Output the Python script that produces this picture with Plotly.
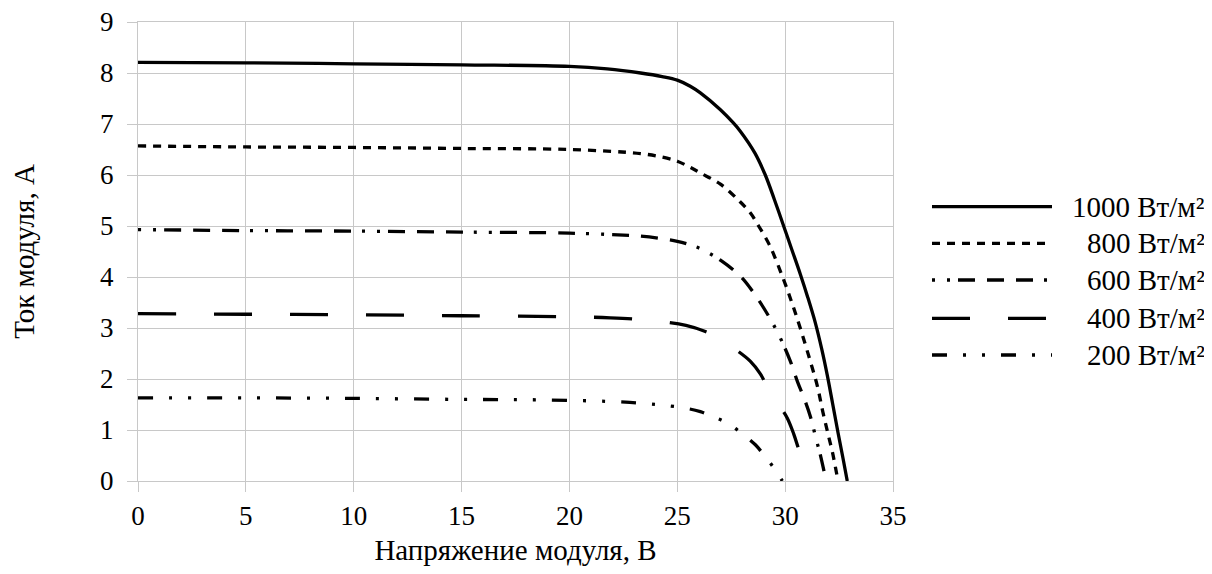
import plotly.graph_objects as go

# ---- data ----
labels = ["1000 Вт/м²", "800 Вт/м²", "600 Вт/м²", "400 Вт/м²", "200 Вт/м²"]

v1000 = [0, 5, 10, 15, 20, 21.75, 23.3, 24.3, 25, 25.6, 26.07, 27.0, 27.6, 27.92, 28.6, 29.08,
         29.5, 29.93, 30.3, 30.7, 31.05, 31.4, 31.7, 31.95, 32.2, 32.45, 32.68, 32.88]
i1000 = [8.21, 8.20, 8.18, 8.16, 8.13, 8.08, 8.0, 7.93, 7.86, 7.74, 7.61, 7.28, 7.02, 6.86, 6.43, 6.0,
         5.52, 5.0, 4.55, 4.06, 3.6, 3.1, 2.58, 2.08, 1.52, 0.95, 0.45, 0.0]

v800 = [0, 5, 10, 15, 20, 23.3, 24.3, 25, 25.6, 26.07, 27.0, 27.9, 28.4, 28.77, 29.27, 29.9,
        30.35, 30.7, 31.2, 31.5, 31.75, 32.0, 32.2, 32.45]
i800 = [6.57, 6.55, 6.54, 6.52, 6.50, 6.42, 6.35, 6.27, 6.15, 6.04, 5.82, 5.48, 5.25, 5.0, 4.63,
        3.98, 3.45, 3.0, 2.3, 1.85, 1.35, 0.9, 0.55, 0.0]

v600 = [0, 5, 10, 15, 20, 23.3, 24.3, 25, 25.6, 26.1, 27.0, 27.96, 28.54, 29.24, 29.78, 30.24,
        30.58, 30.9, 31.18, 31.42, 31.65, 31.9]
i600 = [4.93, 4.91, 4.90, 4.88, 4.86, 4.80, 4.75, 4.70, 4.63, 4.55, 4.33, 4.0, 3.69, 3.23, 2.8,
        2.35, 1.94, 1.6, 1.25, 0.85, 0.48, 0.0]

v400 = [0, 5, 10, 15, 20, 21.9, 23.7, 25.4, 26.3, 27.07, 27.7, 28.38, 28.85, 29.24, 29.7,
        30.09, 30.4, 30.64, 30.9, 31.18]
i400 = [3.28, 3.27, 3.26, 3.24, 3.22, 3.2, 3.15, 3.05, 2.93, 2.77, 2.58, 2.35, 2.1, 1.79, 1.5,
        1.24, 0.92, 0.61, 0.32, 0.0]

v200 = [0, 5, 10, 15, 18.8, 22.8, 25.2, 26.07, 26.6, 27.3, 28.0, 28.62, 29.0, 29.4, 29.87]
i200 = [1.63, 1.63, 1.62, 1.60, 1.59, 1.54, 1.44, 1.36, 1.27, 1.14, 0.93, 0.71, 0.52, 0.3, 0.0]

x_ticks = [0, 5, 10, 15, 20, 25, 30, 35]
y_ticks = [0, 1, 2, 3, 4, 5, 6, 7, 8, 9]

series = [(v1000, i1000), (v800, i800), (v600, i600), (v400, i400), (v200, i200)]
dashes = ["solid",
          "8px,7px",
          "3px,12px,3px,8px,17px,12px,17px,12px,17px,11px",
          "38px,38px",
          "15px,16px,3px,16px,3px,16px"]

FONT = "Liberation Serif"
OFF = 8                      # page body margin
W, H = 1212 - OFF, 574 - OFF
L, R, T, B = 138 - OFF, 319, 22 - OFF, 93
GRID = "#c8c8c8"

fig = go.Figure()
for (v, i), d, name in zip(series, dashes, labels):
    fig.add_trace(go.Scatter(x=v, y=i, mode="lines", name=name, showlegend=False,
                             line=dict(color="black", width=3.3, dash=d, shape="spline",
                                       smoothing=1.0)))

# legend drawn with shapes + annotations (long line samples)
pw = W - L - R
ph = H - T - B
def px2x(px):
    return (px - OFF - L) / pw
def py2y(py):
    return (H - B - (py - OFF)) / ph

rows_py = [206.7, 243.3, 280, 318.3, 355]
for py, d, name in zip(rows_py, dashes, labels):
    fig.add_shape(type="line", xref="paper", yref="paper",
                  x0=px2x(932), x1=px2x(1052), y0=py2y(py), y1=py2y(py),
                  line=dict(color="black", width=3.3, dash=d))
    fig.add_annotation(xref="paper", yref="paper", x=px2x(1207), y=py2y(py),
                       xanchor="right", yanchor="middle", text=name, showarrow=False,
                       font=dict(family=FONT, size=29, color="black"))

fig.update_layout(
    width=W, height=H,
    margin=dict(l=L, r=R, t=T, b=B, autoexpand=False),
    paper_bgcolor="white", plot_bgcolor="white",
    font=dict(family=FONT, size=26, color="black"),
    showlegend=False,
)
fig.update_xaxes(range=[0, 35], tickvals=x_ticks, ticks="outside", ticklen=10,
                 tickcolor=GRID, tickwidth=1.3, showgrid=True, gridcolor=GRID,
                 gridwidth=1.3, zeroline=False, showline=True, linecolor=GRID,
                 linewidth=1.3, mirror=True, ticklabelstandoff=0, automargin=False,
                 ticklabeloverflow="allow",
                 tickfont=dict(family=FONT, size=27),
                 title=dict(text="Напряжение модуля, В", standoff=10,
                            font=dict(family=FONT, size=29)))
fig.update_yaxes(range=[0, 9], tickvals=y_ticks, ticks="outside", ticklen=10,
                 tickcolor=GRID, tickwidth=1.3, showgrid=True, gridcolor=GRID,
                 gridwidth=1.3, zeroline=False, showline=True, linecolor=GRID,
                 linewidth=1.3, mirror=True, ticklabelstandoff=8, automargin=False,
                 ticklabeloverflow="allow",
                 tickfont=dict(family=FONT, size=27),
                 title=dict(text="Ток модуля, А", standoff=60,
                            font=dict(family=FONT, size=29)))

fig.write_html("out.html")
